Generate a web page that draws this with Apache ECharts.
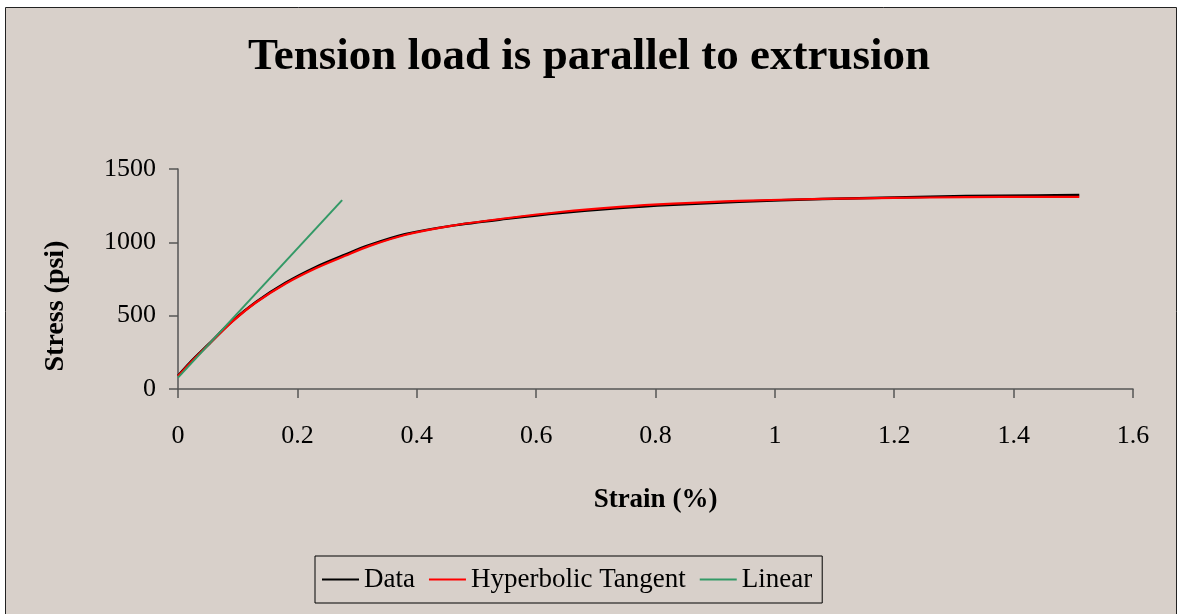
<!DOCTYPE html>
<html>
<head>
<meta charset="utf-8">
<script src="https://cdn.jsdelivr.net/npm/echarts@6/dist/echarts.min.js"></script>
<style>
  html, body { margin: 0; padding: 0; background: #fff; }
  #chart { width: 1178px; height: 614px; }
</style>
</head>
<body>
<div id="chart"></div>
<script>
// strain (%) where the measured curve was sampled
var strain = [0, 0.02, 0.05, 0.09, 0.13, 0.18, 0.23, 0.28, 0.32, 0.38, 0.46, 0.55, 0.64, 0.74, 0.83, 0.94, 1.08, 1.2, 1.32, 1.44, 1.51]
// measured stress (psi)
var dataStress = [90, 180, 300, 460, 592, 724, 830, 916, 980, 1055, 1114, 1160, 1200, 1234, 1256, 1277, 1296, 1306, 1316, 1320, 1322]
// hyperbolic tangent fit (psi)
var tanhStress = [88, 176, 298, 456, 588, 718, 822, 908, 974, 1050, 1114, 1164, 1207, 1242, 1264, 1283, 1296, 1303, 1308, 1310, 1310]
// linear (elastic) fit
var linearStrain = [0, 0.275]
var linearStress = [78, 1288]

var serif = '"Liberation Serif", "DejaVu Serif", serif'

function pairs (xs, ys) {
  return xs.map(function (x, i) { return [x, ys[i]] })
}

var chart = echarts.init(document.getElementById('chart'))
var option = {
  backgroundColor: '#ffffff',
  animation: false,
  graphic: [
    {
      type: 'rect',
      z: -10,
      shape: { x: 5.5, y: 7.5, width: 1171, height: 620 },
      style: { fill: '#d8d0ca', stroke: '#222', lineWidth: 1 }
    }
  ],
  title: {
    text: 'Tension load is parallel to extrusion',
    left: 'center',
    top: 30,
    textStyle: { fontFamily: serif, fontWeight: 'bold', fontSize: 45, color: '#000' }
  },
  grid: { left: 178, right: 45, top: 169, bottom: 225 },
  legend: {
    left: 315,
    top: 556,
    padding: [10, 10, 10, 7],
    itemGap: 14,
    itemWidth: 37,
    itemHeight: 2,
    icon: 'rect',
    borderColor: '#000',
    borderWidth: 1,
    textStyle: { fontFamily: serif, fontSize: 27, color: '#000' },
    data: ['Data', 'Hyperbolic Tangent', 'Linear']
  },
  xAxis: {
    type: 'value',
    min: 0,
    max: 1.6,
    interval: 0.2,
    name: 'Strain (%)',
    nameLocation: 'middle',
    nameGap: 98,
    nameTextStyle: { fontFamily: serif, fontWeight: 'bold', fontSize: 27, color: '#000', verticalAlign: 'top' },
    axisLine: { lineStyle: { color: '#555', width: 1.5 } },
    axisTick: { show: true, length: 9, lineStyle: { color: '#555', width: 1.5 } },
    axisLabel: { margin: 34, fontFamily: serif, fontSize: 26, color: '#000' },
    splitLine: { show: false }
  },
  yAxis: {
    type: 'value',
    min: 0,
    max: 1500,
    interval: 500,
    name: 'Stress (psi)',
    nameLocation: 'middle',
    nameGap: 108,
    nameTextStyle: { fontFamily: serif, fontWeight: 'bold', fontSize: 28, color: '#000', padding: [0, 54, 0, 0] },
    axisLine: { show: true, lineStyle: { color: '#555', width: 1.5 } },
    axisTick: { show: true, length: 9, lineStyle: { color: '#555', width: 1.5 } },
    axisLabel: {
      margin: 22,
      fontFamily: serif,
      fontSize: 26,
      color: '#000',
      formatter: function (v) { return String(v) }
    },
    splitLine: { show: false }
  },
  series: [
    {
      name: 'Data',
      type: 'line',
      data: pairs(strain, dataStress),
      symbol: 'none',
      smooth: 0.3,
      lineStyle: { color: '#000', width: 2.5 },
      itemStyle: { color: '#000' }
    },
    {
      name: 'Hyperbolic Tangent',
      type: 'line',
      data: pairs(strain, tanhStress),
      symbol: 'none',
      smooth: 0.3,
      lineStyle: { color: '#ff0000', width: 2.2 },
      itemStyle: { color: '#ff0000' }
    },
    {
      name: 'Linear',
      type: 'line',
      data: pairs(linearStrain, linearStress),
      symbol: 'none',
      lineStyle: { color: '#339966', width: 2 },
      itemStyle: { color: '#339966' }
    }
  ]
}
chart.setOption(option)
</script>
</body>
</html>
